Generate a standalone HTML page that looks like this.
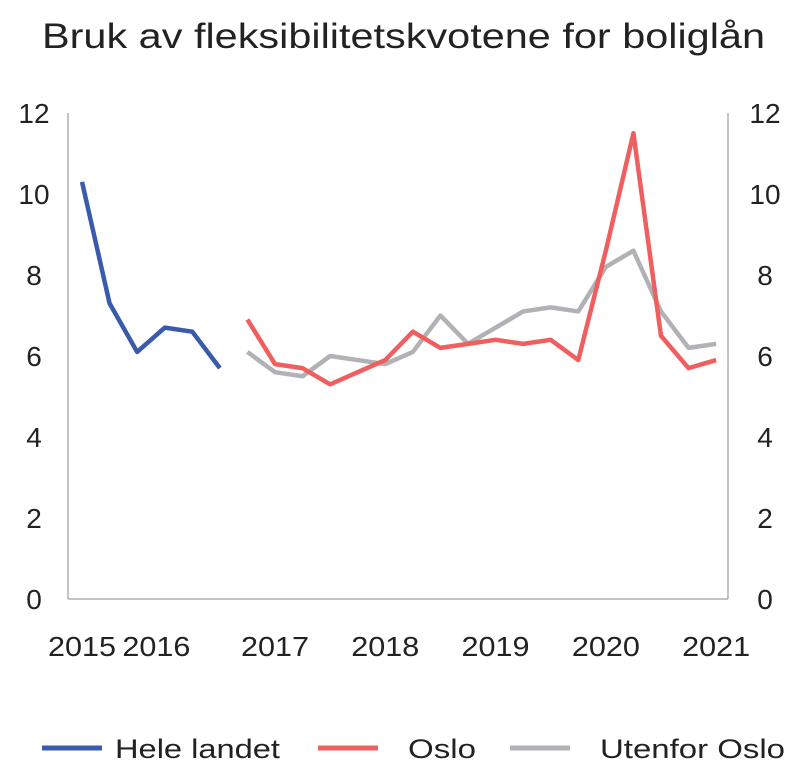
<!DOCTYPE html>
<html><head><meta charset="utf-8"><style>
body{margin:0;background:#fff;font-family:"Liberation Sans",sans-serif}
svg text{font-family:"Liberation Sans",sans-serif;fill:#222}
</style></head><body>
<svg width="800" height="779">
<text x="42" y="48" font-size="35" textLength="723" lengthAdjust="spacingAndGlyphs">Bruk av fleksibilitetskvotene for boliglån</text>
<g id="axes"></g><g id="series"></g>
<g>
<line x1="42" y1="748" x2="102" y2="748" stroke="#3a5aab" stroke-width="5"/><text x="115" y="758" font-size="27" textLength="165" lengthAdjust="spacingAndGlyphs">Hele landet</text>
<line x1="318" y1="748" x2="378" y2="748" stroke="#ef5f5f" stroke-width="5"/><text x="408" y="758" font-size="27" textLength="68" lengthAdjust="spacingAndGlyphs">Oslo</text>
<line x1="510" y1="748" x2="570" y2="748" stroke="#b1b2b5" stroke-width="5"/><text x="600" y="758" font-size="27" textLength="185" lengthAdjust="spacingAndGlyphs">Utenfor Oslo</text>
</g>
</svg>
<script>
const yTicks=[0,2,4,6,8,10,12];
const xLabels=["2015","2016","2017","2018","2019","2020","2021"];
const xLabelPos=[0,2.7,7,11,15,19,23];
const heleLandet=[10.3,7.3,6.1,6.7,6.6,5.7];
const heleStart=0;
const oslo=[6.9,5.8,5.7,5.3,5.6,5.9,6.6,6.2,6.3,6.4,6.3,6.4,5.9,8.6,11.5,6.5,5.7,5.9];
const utenfor=[6.1,5.6,5.5,6.0,5.9,5.8,6.1,7.0,6.3,6.7,7.1,7.2,7.1,8.2,8.6,7.1,6.2,6.3];
const osloStart=6;
const NS="http://www.w3.org/2000/svg";
const x=i=>82+i*27.57, y=v=>599-v*40.5;
const ax=document.getElementById('axes'), se=document.getElementById('series');
function mk(tag,at,parent,txt){const e=document.createElementNS(NS,tag);for(const k in at)e.setAttribute(k,at[k]);if(txt!=null)e.textContent=txt;parent.appendChild(e);return e;}
let l=mk('line',{x1:68,y1:y(12),x2:68,y2:599,stroke:'#888','stroke-width':1},ax);


l=mk('line',{x1:728,y1:y(12),x2:728,y2:599,stroke:'#888','stroke-width':1},ax);


l=mk('line',{x1:68,y1:599,x2:728,y2:599,stroke:'#888','stroke-width':1},ax);


yTicks.forEach(t=>{
 let a=mk('text',{x:34,y:y(t)+10,'text-anchor':'middle','font-size':28},ax,t);
 
 
 let b=mk('text',{x:765,y:y(t)+10,'text-anchor':'middle','font-size':28},ax,t);
 
 
});
xLabels.forEach((s,i)=>{
 let a=mk('text',{x:x(xLabelPos[i]),y:656,'text-anchor':'middle','font-size':28,textLength:68,lengthAdjust:'spacingAndGlyphs'},ax,s);
 
 
});
function line(arr,start,col,name){
 const p=arr.map((v,i)=>x(start+i)+','+y(v)).join(' ');
 const e=mk('polyline',{points:p,fill:'none',stroke:col,'stroke-width':4.5,'stroke-linejoin':'round'},se);
 
 
}
line(utenfor,osloStart,'#b1b2b5','utenfor-oslo-line');
line(oslo,osloStart,'#ef5f5f','oslo-line');
line(heleLandet,heleStart,'#3a5aab','hele-landet-line');
</script>
</body></html>
